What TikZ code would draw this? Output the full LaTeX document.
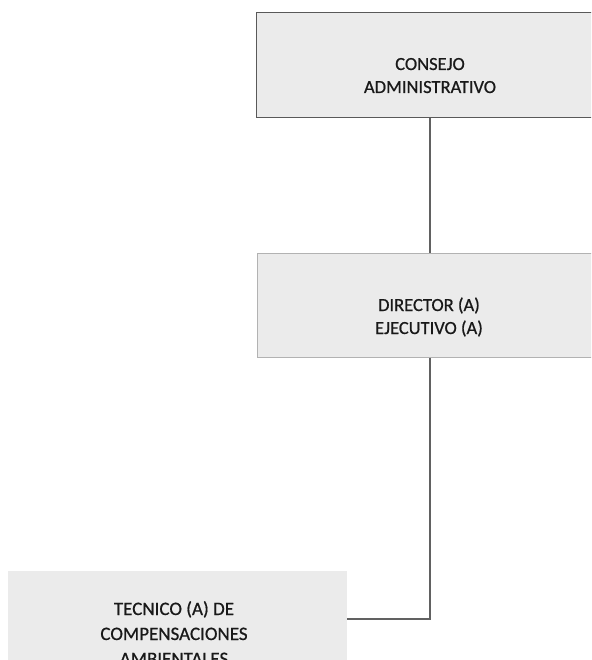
\documentclass[tikz,border=0pt]{standalone}
\usepackage{fontspec}
\setmainfont{Carlito}
\newfontfamily\scanfont{Carlito}[FakeBold=0.7]
\begin{document}
\begin{tikzpicture}[x=1pt,y=-1pt,
  box/.style={rectangle,fill=black!8,inner sep=0pt,anchor=north west},
  lbl/.style={align=center,font=\scanfont\fontsize{18.5}{23}\selectfont,text=black!90,inner sep=0pt,anchor=base},
  biglbl/.style={align=center,font=\scanfont\fontsize{19}{25}\selectfont,text=black!90,inner sep=0pt,anchor=base},
  conn/.style={draw=black!62,line width=1.5pt}]
\useasboundingbox (0,0) rectangle (591,660);
\clip (0,0) rectangle (591,660);
\node[box,draw=black!65,line width=0.8pt,minimum width=346pt,minimum height=105pt] (b1) at (256,12) {};
\node[box,draw=black!30,line width=0.6pt,minimum width=345pt,minimum height=104pt] (b2) at (257,253) {};
\node[box,minimum width=339pt,minimum height=120pt] (b3) at (8,571) {};
\node[lbl] (t1) at (430,93) {CONSEJO\\ADMINISTRATIVO};
\node[lbl] (t2) at (429,334) {DIRECTOR (A)\\EJECUTIVO (A)};
\node[biglbl] (t3) at (174,665) {TECNICO (A) DE\\COMPENSACIONES\\AMBIENTALES};
\coordinate (c) at (430,619);
\draw[conn] (b1.south -| c) -- (b2.north -| c);
\draw[conn] (b2.south -| c) -- (c) -- (c -| b3.east);
\end{tikzpicture}
\end{document}
